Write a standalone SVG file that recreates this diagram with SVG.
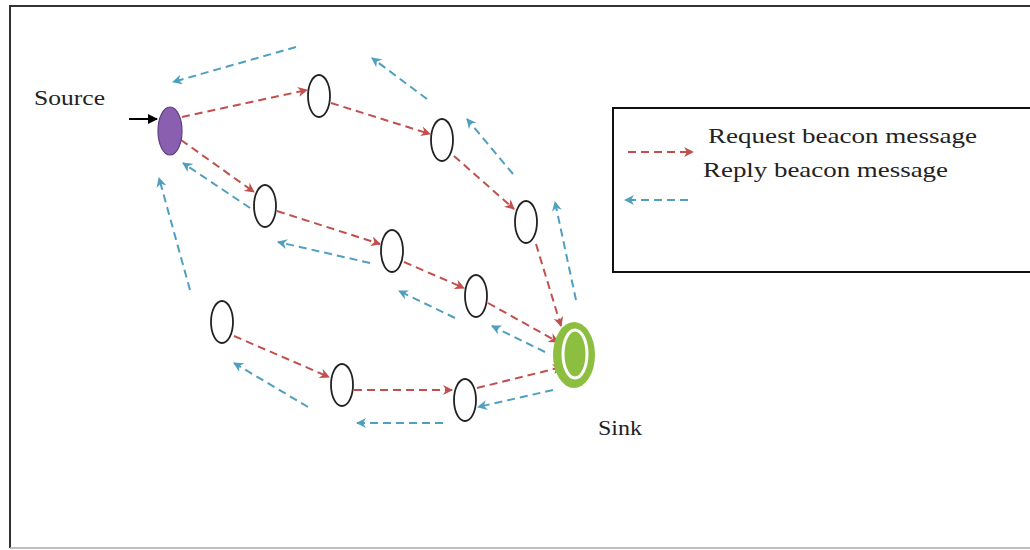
<svg xmlns="http://www.w3.org/2000/svg" width="1030" height="550" viewBox="0 0 1030 550">
  <style>
    .node { fill: #ffffff; stroke: #222222; stroke-width: 1.8; }
    .req { stroke: #c0504d; stroke-width: 2; stroke-dasharray: 8 5; fill: none; marker-end: url(#mred); }
    .rep { stroke: #4f9fbf; stroke-width: 2; stroke-dasharray: 8 5; fill: none; marker-end: url(#mblue); }
    .lbl { font-family: "Liberation Serif", "Times New Roman", serif; fill: #222222; }
  </style>
  <defs>
    <marker id="mred" viewBox="0 0 10 10" refX="9" refY="5" markerWidth="10" markerHeight="10" markerUnits="userSpaceOnUse" orient="auto">
      <path d="M0,0 L10,5 L0,10 L3,5 z" fill="#c0504d"/>
    </marker>
    <marker id="mblue" viewBox="0 0 10 10" refX="9" refY="5" markerWidth="10" markerHeight="10" markerUnits="userSpaceOnUse" orient="auto">
      <path d="M0,0 L10,5 L0,10 L3,5 z" fill="#4f9fbf"/>
    </marker>
    <marker id="mblack" viewBox="0 0 10 10" refX="9" refY="5" markerWidth="10" markerHeight="10" markerUnits="userSpaceOnUse" orient="auto">
      <path d="M0,0 L10,5 L0,10 z" fill="#000000"/>
    </marker>
  </defs>

  <rect x="0" y="0" width="1030" height="550" fill="#ffffff"/>
  <!-- outer frame -->
  <path d="M1032,6 L10,6 L10,548" fill="none" stroke="#333333" stroke-width="2"/>
  <line x1="10" y1="548" x2="1030" y2="548" stroke="#aaaaaa" stroke-width="1.5"/>

  <g id="connectors">
    <!-- request (red) -->
    <line class="req" x1="182" y1="117" x2="307" y2="90"/>
    <line class="req" x1="331" y1="103" x2="430" y2="134"/>
    <line class="req" x1="454" y1="156" x2="514" y2="209"/>
    <line class="req" x1="536" y1="244" x2="561" y2="326"/>
    <line class="req" x1="181" y1="140" x2="254" y2="192"/>
    <line class="req" x1="277" y1="211" x2="380" y2="244"/>
    <line class="req" x1="404" y1="262" x2="464" y2="288"/>
    <line class="req" x1="488" y1="303" x2="558" y2="342"/>
    <line class="req" x1="234" y1="336" x2="329" y2="377"/>
    <line class="req" x1="354" y1="390" x2="452" y2="390"/>
    <line class="req" x1="477" y1="388" x2="562" y2="367"/>
    <!-- reply (blue) -->
    <line class="rep" x1="296" y1="47" x2="173" y2="82"/>
    <line class="rep" x1="427" y1="99" x2="372" y2="58"/>
    <line class="rep" x1="513" y1="174" x2="467" y2="119"/>
    <line class="rep" x1="576" y1="300" x2="555" y2="202"/>
    <line class="rep" x1="190" y1="290" x2="159" y2="178"/>
    <line class="rep" x1="250" y1="208" x2="183" y2="163"/>
    <line class="rep" x1="370" y1="263" x2="278" y2="242"/>
    <line class="rep" x1="455" y1="318" x2="399" y2="291"/>
    <line class="rep" x1="545" y1="352" x2="492" y2="326"/>
    <line class="rep" x1="553" y1="390" x2="478" y2="407"/>
    <line class="rep" x1="308" y1="407" x2="234" y2="363"/>
    <line class="rep" x1="443" y1="423" x2="357" y2="423"/>
    <!-- source input arrow -->
    <line x1="129" y1="119" x2="157" y2="119" stroke="#000000" stroke-width="2" marker-end="url(#mblack)"/>
  </g>

  <g id="source">
    <ellipse cx="170" cy="131" rx="12" ry="24" fill="#8a5fb0" stroke="#5d3f80" stroke-width="1.2"/>
    <text class="lbl" x="34" y="105" font-size="21" textLength="71" lengthAdjust="spacingAndGlyphs">Source</text>
  </g>
  <g id="nodeA"><ellipse class="node" cx="319" cy="96" rx="11" ry="21"/></g>
  <g id="nodeB"><ellipse class="node" cx="442" cy="140" rx="11" ry="21"/></g>
  <g id="nodeC"><ellipse class="node" cx="526" cy="222" rx="11" ry="21"/></g>
  <g id="nodeD"><ellipse class="node" cx="265" cy="206" rx="11" ry="21"/></g>
  <g id="nodeE"><ellipse class="node" cx="392" cy="251" rx="11" ry="21"/></g>
  <g id="nodeF"><ellipse class="node" cx="476" cy="296" rx="11" ry="21"/></g>
  <g id="nodeG"><ellipse class="node" cx="222" cy="322" rx="11" ry="21"/></g>
  <g id="nodeH"><ellipse class="node" cx="342" cy="385" rx="11" ry="21"/></g>
  <g id="nodeI"><ellipse class="node" cx="465" cy="400" rx="11" ry="21"/></g>
  <g id="sink">
    <ellipse cx="574" cy="355" rx="21" ry="33" fill="#8cbf3f"/>
    <ellipse cx="575" cy="354" rx="12" ry="24" fill="#8cbf3f" stroke="#ffffff" stroke-width="3"/>
    <text class="lbl" x="598" y="435" font-size="20" textLength="44" lengthAdjust="spacingAndGlyphs">Sink</text>
  </g>

  <g id="legend">
    <rect x="613" y="108" width="430" height="164" fill="none" stroke="#111111" stroke-width="2"/>
    <line class="req" x1="628" y1="152" x2="693" y2="152"/>
    <line class="rep" x1="688" y1="200" x2="625" y2="200"/>
    <text class="lbl" x="708" y="143" font-size="21" textLength="269" lengthAdjust="spacingAndGlyphs">Request beacon message</text>
    <text class="lbl" x="703" y="177" font-size="21" textLength="245" lengthAdjust="spacingAndGlyphs">Reply beacon message</text>
  </g>
</svg>
